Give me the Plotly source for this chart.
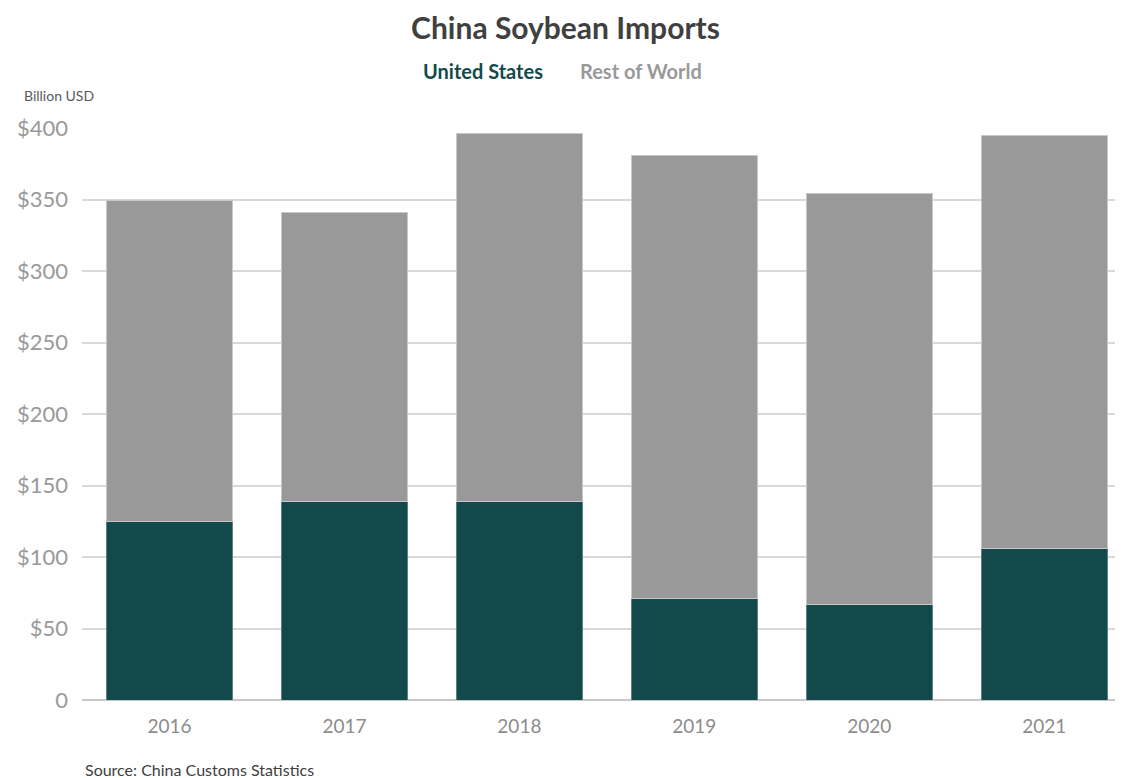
import plotly.graph_objects as go

years = ["2016", "2017", "2018", "2019", "2020", "2021"]
us = [124.5, 138.5, 139, 71, 67, 106]
total = [349, 341, 396.5, 381, 354, 395]
row = [t - u for t, u in zip(total, us)]
tick_vals = [0, 50, 100, 150, 200, 250, 300, 350, 400]
tick_text = ["0", "$50", "$100", "$150", "$200", "$250", "$300", "$350", "$400"]

FONT = "Lato, 'Liberation Sans Narrow', sans-serif"
TEAL = "#124A4B"
GRAY = "#999999"

OFF = 8  # page body margin
W, H = 1123 - OFF, 778 - OFF
L, R, T, B = 82 - OFF, 1123 - OFF, 128 - OFF, 700 - OFF

fig = go.Figure()
fig.add_trace(go.Bar(x=years, y=us, name="United States",
                     marker=dict(color=TEAL, line=dict(color="#5f7f80", width=1))))
fig.add_trace(go.Bar(x=years, y=row, name="Rest of World",
                     marker=dict(color=GRAY, line=dict(color="#c8c8c8", width=1))))

specs = [
    ("<b>United States</b>", 545, 71, "right", TEAL, 20),
    ("<b>Rest of World</b>", 578, 71, "left", GRAY, 20),
    ("Billion USD", 22, 95, "left", "#595959", 14),
    ("Source: China Customs Statistics", 83, 769, "left", "#404040", 16),
]
annotations = []
for text, x, y, anchor, color, size in specs:
    xpix, ypix = x - OFF, y - OFF
    annotations.append(dict(text=text, x=(xpix - L) / (R - L), y=(B - ypix) / (B - T),
                            xref="paper", yref="paper", showarrow=False,
                            xanchor=anchor, yanchor="middle",
                            font=dict(size=size, color=color, family=FONT)))

fig.update_layout(
    width=W, height=H,
    barmode="stack", bargap=0.28,
    paper_bgcolor="white", plot_bgcolor="white",
    margin=dict(l=L, r=W - R, t=T, b=H - B, pad=0),
    showlegend=False,
    font=dict(family=FONT),
    title=dict(text="<b>China Soybean Imports</b>", x=0.5, xanchor="center",
               y=1 - (28 - OFF) / H, yanchor="middle",
               font=dict(size=30, color="#404040", family=FONT)),
    xaxis=dict(range=[-0.5, 5.45], showgrid=False, showline=False, ticks="",
               tickfont=dict(size=19, color="#8c8c8c"), ticklabelstandoff=13),
    yaxis=dict(range=[0, 400], tickvals=tick_vals, ticktext=tick_text, showgrid=True,
               gridcolor="#d9d9d9", gridwidth=1.5, zeroline=True, zerolinecolor="#c8c8c8",
               zerolinewidth=2, tickfont=dict(size=22, color="#999999"), ticks="",
               ticklabelstandoff=13),
    annotations=annotations,
)

fig.write_html("out.html")
